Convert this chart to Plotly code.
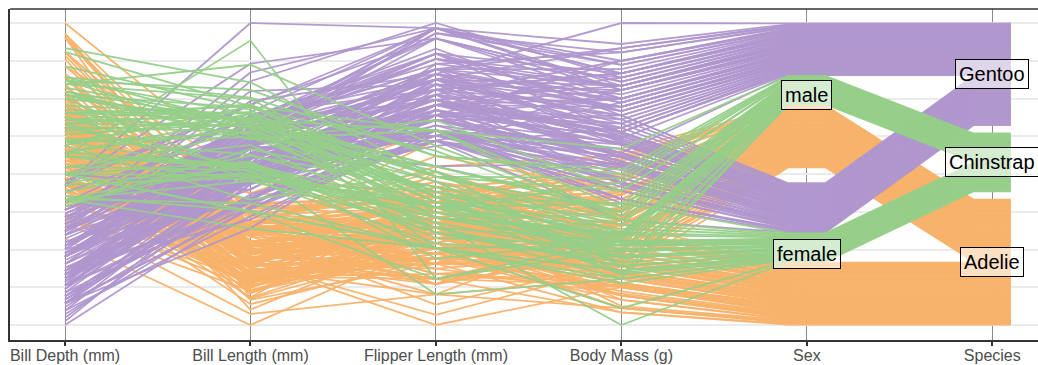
import plotly.graph_objects as go

AXIS_LABELS = ["Bill Depth (mm)", "Bill Length (mm)", "Flipper Length (mm)", "Body Mass (g)", "Sex", "Species"]
SPECIES = ["Adelie", "Chinstrap", "Gentoo"]
SEXES = ["female", "male"]
SEX_CODES = {"f": "female", "m": "male"}
DRAW_ORDER = ["Adelie", "Gentoo", "Chinstrap"]
COLORS = {"Adelie": "rgba(248,178,106,0.95)",
          "Chinstrap": "rgba(150,207,137,0.95)",
          "Gentoo": "rgba(176,151,205,0.95)"}

# rows: bill length (mm), bill depth (mm), flipper length (mm), body mass (g), sex
ADELIE = [
    (39.1, 18.7, 181, 3750, "m"), (39.5, 17.4, 186, 3800, "f"), (40.3, 18.0, 195, 3250, "f"),
    (36.7, 19.3, 193, 3450, "f"), (39.3, 20.6, 190, 3650, "m"), (38.9, 17.8, 181, 3625, "f"),
    (39.2, 19.6, 195, 4675, "m"), (41.1, 17.6, 182, 3200, "f"), (38.6, 21.2, 191, 3800, "m"),
    (34.6, 21.1, 198, 4400, "m"), (36.6, 17.8, 185, 3700, "f"), (38.7, 19.0, 195, 3450, "f"),
    (42.5, 20.7, 197, 4500, "m"), (34.4, 18.4, 184, 3325, "f"), (46.0, 21.5, 194, 4200, "m"),
    (37.8, 18.3, 174, 3400, "f"), (37.7, 18.7, 180, 3600, "m"), (35.9, 19.2, 189, 3800, "f"),
    (38.2, 18.1, 185, 3950, "m"), (38.8, 17.2, 180, 3800, "m"), (35.3, 18.9, 187, 3800, "f"),
    (40.6, 18.6, 183, 3550, "m"), (40.5, 17.9, 187, 3200, "f"), (37.9, 18.6, 172, 3150, "f"),
    (40.5, 18.9, 180, 3950, "m"), (39.5, 16.7, 178, 3250, "f"), (37.2, 18.1, 178, 3900, "m"),
    (39.5, 17.8, 188, 3300, "f"), (40.9, 18.9, 184, 3900, "m"), (36.4, 17.0, 195, 3325, "f"),
    (39.2, 21.1, 196, 4150, "m"), (38.8, 20.0, 190, 3950, "m"), (42.2, 18.5, 180, 3550, "f"),
    (37.6, 19.3, 181, 3300, "f"), (39.8, 19.1, 184, 4650, "m"), (36.5, 18.0, 182, 3150, "f"),
    (40.8, 18.4, 195, 3900, "m"), (36.0, 18.5, 186, 3100, "f"), (44.1, 19.7, 196, 4400, "m"),
    (37.0, 16.9, 185, 3000, "f"), (39.6, 18.8, 190, 4600, "m"), (41.1, 19.0, 182, 3425, "m"),
    (36.0, 17.9, 190, 3450, "f"), (42.3, 21.2, 191, 4150, "m"), (39.6, 17.7, 186, 3500, "f"),
    (40.1, 18.9, 188, 4300, "m"), (35.0, 17.9, 190, 3450, "f"), (42.0, 19.5, 200, 4050, "m"),
    (34.5, 18.1, 187, 2900, "f"), (41.4, 18.6, 191, 3700, "m"), (39.0, 17.5, 186, 3550, "f"),
    (40.6, 18.8, 193, 3800, "m"), (36.5, 16.6, 181, 2850, "f"), (37.6, 19.1, 194, 3750, "m"),
    (35.7, 16.9, 185, 3150, "f"), (41.3, 21.1, 195, 4400, "m"), (37.6, 17.0, 185, 3600, "f"),
    (41.1, 18.2, 192, 4050, "m"), (36.4, 17.1, 184, 2850, "f"), (41.6, 18.0, 192, 3950, "m"),
    (35.5, 16.2, 195, 3350, "f"), (41.1, 19.1, 188, 4100, "m"), (35.9, 16.6, 190, 3050, "f"),
    (41.8, 19.4, 198, 4450, "m"), (33.5, 19.0, 190, 3600, "f"), (39.7, 18.4, 190, 3900, "m"),
    (39.6, 17.2, 196, 3550, "f"), (45.8, 18.9, 197, 4150, "m"), (35.5, 17.5, 190, 3700, "f"),
    (42.8, 18.5, 195, 4250, "m"), (40.9, 16.8, 191, 3700, "f"), (37.2, 19.4, 184, 3900, "m"),
    (36.2, 16.1, 187, 3550, "f"), (42.1, 19.1, 195, 4000, "m"), (34.6, 17.2, 189, 3200, "f"),
    (42.9, 17.6, 196, 4700, "m"), (36.7, 18.8, 187, 3800, "f"), (35.1, 19.4, 193, 4200, "m"),
    (37.3, 17.8, 191, 3350, "f"), (41.3, 20.3, 194, 3550, "m"), (36.3, 19.5, 190, 3800, "m"),
    (36.9, 18.6, 189, 3500, "f"), (38.3, 19.2, 189, 3950, "m"), (38.9, 18.8, 190, 3600, "f"),
    (35.7, 18.0, 202, 3550, "f"), (41.1, 18.1, 205, 4300, "m"), (34.0, 17.1, 185, 3400, "f"),
    (39.6, 18.1, 186, 4450, "m"), (36.2, 17.3, 187, 3300, "f"), (40.8, 18.9, 208, 4300, "m"),
    (38.1, 18.6, 190, 3700, "f"), (40.3, 18.5, 196, 4350, "m"), (33.1, 16.1, 178, 2900, "f"),
    (43.2, 18.5, 192, 4100, "m"), (35.0, 17.9, 192, 3725, "f"), (41.0, 20.0, 203, 4725, "m"),
    (37.7, 16.0, 183, 3075, "f"), (37.8, 20.0, 190, 4250, "m"), (37.9, 18.6, 193, 2925, "f"),
    (39.7, 18.9, 184, 3550, "m"), (38.6, 17.2, 199, 3750, "f"), (38.2, 20.0, 190, 3900, "m"),
    (38.1, 17.0, 181, 3175, "f"), (43.2, 19.0, 197, 4775, "m"), (38.1, 16.5, 198, 3825, "f"),
    (45.6, 20.3, 191, 4600, "m"), (39.7, 17.7, 193, 3200, "f"), (42.2, 19.5, 197, 4275, "m"),
    (39.6, 20.7, 191, 3900, "f"), (42.7, 18.3, 196, 4075, "m"), (38.6, 17.0, 188, 2900, "f"),
    (37.3, 20.5, 199, 3775, "m"), (35.7, 17.0, 189, 3350, "f"), (41.1, 18.6, 189, 3325, "m"),
    (36.2, 17.2, 187, 3150, "f"), (37.7, 19.8, 198, 3500, "m"), (40.2, 17.0, 176, 3450, "f"),
    (41.4, 18.5, 202, 3875, "m"), (35.2, 15.9, 186, 3050, "f"), (40.6, 19.0, 199, 4000, "m"),
    (38.8, 17.6, 191, 3275, "f"), (41.5, 18.3, 195, 4300, "m"), (39.0, 17.1, 191, 3050, "f"),
    (44.1, 18.0, 210, 4000, "m"), (38.5, 17.9, 190, 3325, "f"), (43.1, 19.2, 197, 3500, "m"),
    (36.8, 18.5, 193, 3500, "f"), (37.5, 18.5, 199, 4475, "m"), (38.1, 17.6, 187, 3425, "f"),
    (41.1, 17.5, 190, 3900, "m"), (35.6, 17.5, 191, 3175, "f"), (40.2, 20.1, 200, 3975, "m"),
    (37.0, 16.5, 185, 3400, "f"), (39.7, 17.9, 193, 4250, "m"), (40.2, 17.1, 193, 3400, "f"),
    (40.6, 17.2, 187, 3475, "m"), (32.1, 15.5, 188, 3050, "f"), (40.7, 17.0, 190, 3725, "m"),
    (37.3, 16.8, 192, 3000, "f"), (39.0, 18.7, 185, 3650, "m"), (39.2, 18.6, 190, 4250, "m"),
    (36.6, 18.4, 184, 3475, "f"), (36.0, 17.8, 195, 3450, "f"), (37.8, 18.1, 193, 3750, "m"),
    (36.0, 17.1, 187, 3700, "f"), (41.5, 18.5, 201, 4000, "m"),
]

GENTOO = [
    (46.1, 13.2, 211, 4500, "f"), (50.0, 16.3, 230, 5700, "m"), (48.7, 14.1, 210, 4450, "f"),
    (50.0, 15.2, 218, 5700, "m"), (47.6, 14.5, 215, 5400, "m"), (46.5, 13.5, 210, 4550, "f"),
    (45.4, 14.6, 211, 4800, "f"), (46.7, 15.3, 219, 5200, "m"), (43.3, 13.4, 209, 4400, "f"),
    (46.8, 15.4, 215, 5150, "m"), (40.9, 13.7, 214, 4650, "f"), (49.0, 16.1, 216, 5550, "m"),
    (45.5, 13.7, 214, 4650, "f"), (48.4, 14.6, 213, 5850, "m"), (45.8, 14.6, 210, 4200, "f"),
    (49.3, 15.7, 217, 5850, "m"), (42.0, 13.5, 210, 4150, "f"), (49.2, 15.2, 221, 6300, "m"),
    (46.2, 14.5, 209, 4800, "f"), (48.7, 15.1, 222, 5350, "m"), (50.2, 14.3, 218, 5700, "m"),
    (45.1, 14.5, 215, 5000, "f"), (46.5, 14.5, 213, 4400, "f"), (46.3, 15.8, 215, 5050, "m"),
    (42.9, 13.1, 215, 5000, "f"), (46.1, 15.1, 215, 5100, "m"), (47.8, 15.0, 215, 5650, "m"),
    (48.2, 14.3, 210, 4600, "f"), (50.0, 15.3, 220, 5550, "m"), (47.3, 15.3, 222, 5250, "m"),
    (42.8, 14.2, 209, 4700, "f"), (45.1, 14.5, 207, 5050, "f"), (59.6, 17.0, 230, 6050, "m"),
    (49.1, 14.8, 220, 5150, "f"), (48.4, 16.3, 220, 5400, "m"), (42.6, 13.7, 213, 4950, "f"),
    (44.4, 17.3, 219, 5250, "m"), (44.0, 13.6, 208, 4350, "f"), (48.7, 15.7, 208, 5350, "m"),
    (42.7, 13.7, 208, 3950, "f"), (49.6, 16.0, 225, 5700, "m"), (45.3, 13.7, 210, 4300, "f"),
    (49.6, 15.0, 216, 4750, "m"), (50.5, 15.9, 222, 5550, "m"), (43.6, 13.9, 217, 4900, "f"),
    (45.5, 13.9, 210, 4200, "f"), (50.5, 15.9, 225, 5400, "m"), (44.9, 13.3, 213, 5100, "f"),
    (45.2, 15.8, 215, 5300, "m"), (46.6, 14.2, 210, 4850, "f"), (48.5, 14.1, 220, 5300, "m"),
    (45.1, 14.4, 210, 4400, "f"), (50.1, 15.0, 225, 5000, "m"), (46.5, 14.4, 217, 4900, "f"),
    (45.0, 15.4, 220, 5050, "m"), (43.8, 13.9, 208, 4300, "f"), (45.5, 15.0, 220, 5000, "m"),
    (43.2, 14.5, 208, 4450, "f"), (50.4, 15.3, 224, 5550, "m"), (45.3, 13.8, 208, 4200, "f"),
    (46.2, 14.9, 221, 5300, "m"), (45.7, 13.9, 214, 4400, "f"), (54.3, 15.7, 231, 5650, "m"),
    (45.8, 14.2, 219, 4700, "f"), (49.8, 16.8, 230, 5700, "m"), (49.5, 16.2, 229, 5800, "m"),
    (43.5, 14.2, 220, 4700, "f"), (50.7, 15.0, 223, 5550, "m"), (47.7, 15.0, 216, 4750, "f"),
    (46.4, 15.6, 221, 5000, "m"), (48.2, 15.6, 221, 5100, "m"), (46.5, 14.8, 217, 5200, "f"),
    (46.4, 15.0, 216, 4700, "f"), (48.6, 16.0, 230, 5800, "m"), (47.5, 14.2, 209, 4600, "f"),
    (51.1, 16.3, 220, 6000, "m"), (45.2, 13.8, 215, 4750, "f"), (45.2, 16.4, 223, 5950, "m"),
    (49.1, 14.5, 212, 4625, "f"), (52.5, 15.6, 221, 5450, "m"), (47.4, 14.6, 212, 4725, "f"),
    (50.0, 15.9, 224, 5350, "m"), (44.9, 13.8, 212, 4750, "f"), (50.8, 17.3, 228, 5600, "m"),
    (43.4, 14.4, 218, 4600, "f"), (51.3, 14.2, 218, 5300, "m"), (47.5, 14.0, 212, 4875, "f"),
    (52.1, 17.0, 230, 5550, "m"), (47.5, 15.0, 218, 4950, "f"), (52.2, 17.1, 228, 5400, "m"),
    (45.5, 14.5, 212, 4750, "f"), (49.5, 16.1, 224, 5650, "m"), (44.5, 14.7, 214, 4850, "f"),
    (50.8, 15.7, 226, 5200, "m"), (49.4, 15.8, 216, 4925, "m"), (46.9, 14.6, 222, 4875, "f"),
    (48.4, 14.4, 203, 4625, "f"), (51.1, 16.5, 225, 5250, "m"), (48.5, 15.0, 219, 4850, "f"),
    (55.9, 17.0, 228, 5600, "m"), (47.2, 15.5, 215, 4975, "f"), (49.1, 15.0, 228, 5500, "m"),
    (46.8, 16.1, 215, 5500, "m"), (41.7, 14.7, 210, 4700, "f"), (53.4, 15.8, 219, 5500, "m"),
    (43.3, 14.0, 208, 4575, "f"), (48.1, 15.1, 209, 5500, "m"), (50.5, 15.2, 216, 5000, "f"),
    (49.8, 15.9, 229, 5950, "m"), (43.5, 15.2, 213, 4650, "f"), (51.5, 16.3, 230, 5500, "m"),
    (46.2, 14.1, 217, 4375, "f"), (55.1, 16.0, 230, 5850, "m"), (48.8, 16.2, 222, 6000, "m"),
    (47.2, 13.7, 214, 4925, "f"), (46.8, 14.3, 215, 4850, "f"), (50.4, 15.7, 222, 5750, "m"),
    (45.2, 14.8, 212, 5200, "f"), (49.9, 16.1, 213, 5400, "m"),
]

CHINSTRAP = [
    (46.5, 17.9, 192, 3500, "f"), (50.0, 19.5, 196, 3900, "m"), (51.3, 19.2, 193, 3650, "m"),
    (45.4, 18.7, 188, 3525, "f"), (52.7, 19.8, 197, 3725, "m"), (45.2, 17.8, 198, 3950, "f"),
    (46.1, 18.2, 178, 3250, "f"), (51.3, 18.2, 197, 3750, "m"), (46.0, 18.9, 195, 4150, "f"),
    (51.3, 19.9, 198, 3700, "m"), (46.6, 17.8, 193, 3800, "f"), (51.7, 20.3, 194, 3775, "m"),
    (47.0, 17.3, 185, 3700, "f"), (52.0, 18.1, 201, 4050, "m"), (45.9, 17.1, 190, 3575, "f"),
    (50.5, 19.6, 201, 4050, "m"), (50.3, 20.0, 197, 3300, "m"), (58.0, 17.8, 181, 3700, "f"),
    (46.4, 18.6, 190, 3450, "f"), (49.2, 18.2, 195, 4400, "m"), (42.4, 17.3, 181, 3600, "f"),
    (48.5, 17.5, 191, 3400, "m"), (43.2, 16.6, 187, 2900, "f"), (50.6, 19.4, 193, 3800, "m"),
    (46.7, 17.9, 195, 3300, "f"), (52.0, 19.0, 197, 4150, "m"), (50.5, 18.4, 200, 3400, "f"),
    (49.5, 19.0, 200, 3800, "m"), (46.4, 17.8, 191, 3700, "f"), (52.8, 20.0, 205, 4550, "m"),
    (40.9, 16.6, 187, 3200, "f"), (54.2, 20.8, 201, 4300, "m"), (42.5, 16.7, 187, 3350, "f"),
    (51.0, 18.8, 203, 4100, "m"), (49.7, 18.6, 195, 3600, "m"), (47.5, 16.8, 199, 3900, "f"),
    (47.6, 18.3, 195, 3850, "f"), (52.0, 20.7, 210, 4800, "m"), (46.9, 16.6, 192, 2700, "f"),
    (53.5, 19.9, 205, 4500, "m"), (49.0, 19.5, 210, 3950, "m"), (46.2, 17.5, 187, 3650, "f"),
    (50.9, 19.1, 196, 3550, "m"), (45.5, 17.0, 196, 3500, "f"), (50.9, 17.9, 196, 3675, "f"),
    (50.8, 18.5, 201, 4450, "m"), (50.1, 17.9, 190, 3400, "f"), (49.0, 19.6, 212, 4300, "m"),
    (51.5, 18.7, 187, 3250, "m"), (49.8, 17.3, 198, 3675, "f"), (48.1, 16.4, 199, 3325, "f"),
    (51.4, 19.0, 201, 3950, "m"), (45.7, 17.3, 193, 3600, "f"), (50.7, 19.7, 203, 4050, "m"),
    (42.5, 17.3, 187, 3350, "f"), (52.2, 18.8, 197, 3450, "m"), (45.2, 16.6, 191, 3250, "f"),
    (49.3, 19.9, 203, 4050, "m"), (50.2, 18.8, 202, 3800, "m"), (45.6, 19.4, 194, 3525, "f"),
    (51.9, 19.5, 206, 3950, "m"), (46.8, 16.5, 189, 3650, "f"), (45.7, 17.0, 195, 3650, "f"),
    (55.8, 19.8, 207, 4000, "m"), (43.5, 18.1, 202, 3400, "f"), (49.6, 18.2, 193, 3775, "m"),
    (50.8, 19.0, 210, 4100, "m"), (50.2, 18.7, 198, 3775, "f"),
]

# ---------------------------------------------------------------- build table
records = []
for name, rows in (("Adelie", ADELIE), ("Gentoo", GENTOO), ("Chinstrap", CHINSTRAP)):
    for bl, bd, fl, bm, sx in rows:
        records.append({"species": name, "bl": bl, "bd": bd, "fl": fl, "bm": bm,
                        "sex": SEX_CODES[sx]})

# numeric axes: min-max scaled
for key in ("bd", "bl", "fl", "bm"):
    vals = [r[key] for r in records]
    lo, hi = min(vals), max(vals)
    for r in records:
        r[key + "_s"] = (r[key] - lo) / (hi - lo)

N = len(records)
SPACE = 0.05


def place_categorical(key, levels, sortkey, out):
    gap = SPACE / (len(levels) - 1)
    usable = 1 - SPACE
    start = 0.0
    centers = {}
    for lvl in levels:
        grp = sorted([r for r in records if r[key] == lvl], key=sortkey)
        c = len(grp)
        w = usable * c / N
        for i, r in enumerate(grp):
            r[out] = start + w * (i + 0.5) / c
        centers[lvl] = start + w / 2
        start += w + gap
    return centers


sex_centers = place_categorical(
    "sex", SEXES, lambda r: (SPECIES.index(r["species"]), r["bm"], r["bl"]), "sex_s")
sp_centers = place_categorical(
    "species", SPECIES, lambda r: (SEXES.index(r["sex"]), r["bm"], r["bl"]), "sp_s")

W = 0.1  # half width of flat segment at categorical axes

fig = go.Figure()
for sp in DRAW_ORDER:
    xs, ys = [], []
    for r in records:
        if r["species"] != sp:
            continue
        xs += [1, 2, 3, 4, 5 - W, 5 + W, 6 - W, 6 + W, None]
        ys += [r["bd_s"], r["bl_s"], r["fl_s"], r["bm_s"],
               r["sex_s"], r["sex_s"], r["sp_s"], r["sp_s"], None]
    fig.add_trace(go.Scatter(x=xs, y=ys, mode="lines",
                             line=dict(color=COLORS[sp], width=1.8),
                             hoverinfo="skip", showlegend=False, name=sp))

annotations = []
for lvl, c in sex_centers.items():
    annotations.append(dict(x=5, y=c, text=lvl))
for lvl, c in sp_centers.items():
    annotations.append(dict(x=6, y=c, text=lvl))
for a in annotations:
    a.update(xref="x", yref="y", showarrow=False,
             font=dict(family="Liberation Sans, Arial, sans-serif", size=20, color="black"),
             bgcolor="rgba(255,255,255,0.6)", bordercolor="black", borderwidth=1,
             borderpad=3)

fig.update_layout(
    width=1038, height=365,
    margin=dict(l=10, r=0, t=9, b=25, autoexpand=False),
    plot_bgcolor="white", paper_bgcolor="white",
    annotations=annotations,
    xaxis=dict(range=[0.7034, 6.2464], tickmode="array",
               tickvals=[1, 2, 3, 4, 5, 6], ticktext=AXIS_LABELS,
               showgrid=True, gridcolor="#8c8c8c", gridwidth=1,
               showline=True, linecolor="#333333", linewidth=1.5,
               ticks="outside", ticklen=4, tickwidth=1.5, tickcolor="#333333",
               ticklabelstandoff=-4,
               tickfont=dict(family="Liberation Sans, Arial, sans-serif", size=16, color="#4d4d4d"),
               automargin=False, zeroline=False, fixedrange=True),
    yaxis=dict(range=[-0.0497, 1.0464], tickmode="array",
               tickvals=[i / 8 for i in range(9)], showticklabels=False,
               showgrid=True, gridcolor="#ebebeb", gridwidth=1.5,
               showline=True, linecolor="#333333", linewidth=1.5,
               automargin=False, zeroline=False, fixedrange=True),
    shapes=[dict(type="line", xref="paper", yref="paper", x0=0, x1=1, y0=1, y1=1,
                 line=dict(color="#333333", width=1.5))],
)

fig.write_html("out.html", config={"displayModeBar": False},
               post_script="document.body.style.margin='0';"
                           "document.body.style.overflow='hidden';")
